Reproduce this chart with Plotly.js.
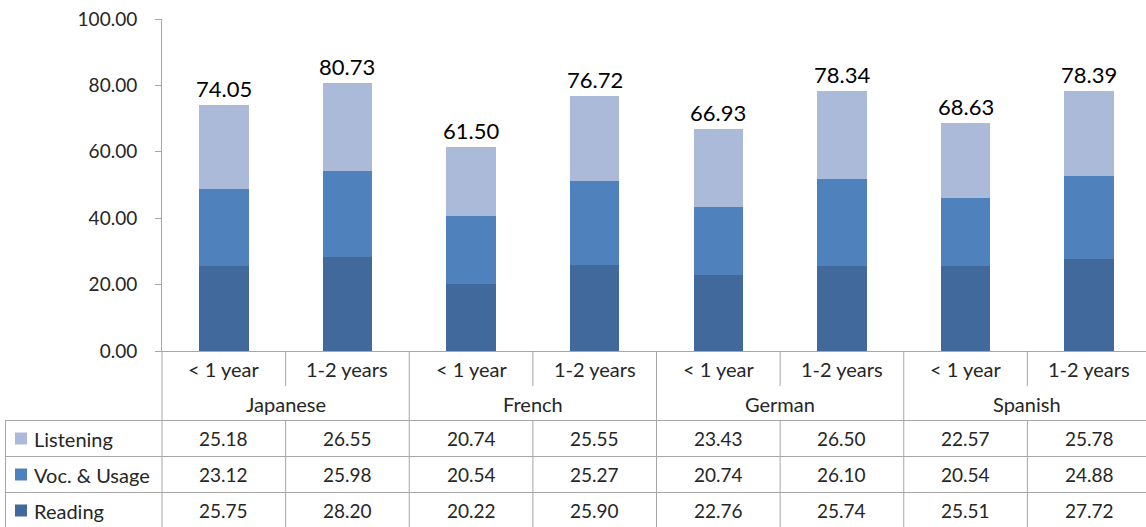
<!DOCTYPE html>
<html>
<head>
<meta charset="utf-8">
<script src="https://cdn.plot.ly/plotly-3.0.1.min.js"></script>
<style>html,body{margin:0;padding:0;background:#fff;overflow:hidden;}#chart{width:1151px;height:527px;}</style>
</head>
<body>
<div id="chart"></div>
<script>
// ---- data ----
var groups = ["Japanese", "French", "German", "Spanish"];
var subcats = ["< 1 year", "1-2 years"];
var seriesNames = ["Listening", "Voc. & Usage", "Reading"];
var listening = [25.18, 26.55, 20.74, 25.55, 23.43, 26.50, 22.57, 25.78];
var vocUsage  = [23.12, 25.98, 20.54, 25.27, 20.74, 26.10, 20.54, 24.88];
var reading   = [25.75, 28.20, 20.22, 25.90, 22.76, 25.74, 25.51, 27.72];
var totals    = [74.05, 80.73, 61.50, 76.72, 66.93, 78.34, 68.63, 78.39];
var yTicks = [0, 20, 40, 60, 80, 100];

// ---- layout constants ----
var W = 1151, H = 527, ML = 162, MR = 0, MT = 19, MB = 176;
var PW = W - ML - MR, PH = H - MT - MB;
function pxX(x){ return (x - ML) / PW; }
function pxY(y){ return (H - MB - y) / PH; }

var colors = {"Listening": "#abbad8", "Voc. & Usage": "#4f81bd", "Reading": "#41699c"};
var lineCol = "#a6a6a6";
var textCol = "#262626";
var FONT = "Lato, 'Open Sans', sans-serif";
var TXT = 20, NUM = 19;

// categories
var cats = [];
groups.forEach(function(g){ subcats.forEach(function(s){ cats.push(g + " " + s); }); });
var nC = cats.length;

var valuesBySeries = {"Listening": listening, "Voc. & Usage": vocUsage, "Reading": reading};
var stackOrder = ["Reading", "Voc. & Usage", "Listening"];
var traces = stackOrder.map(function(name){
  return {
    type: "bar", name: name, x: cats, y: valuesBySeries[name],
    marker: {color: colors[name], line: {width: 0}},
    hoverinfo: "y+name"
  };
});

var annotations = [];
var shapes = [];

// totals above bars
cats.forEach(function(c, i){
  annotations.push({
    x: c, y: totals[i], xref: "x", yref: "y", text: totals[i].toFixed(2),
    showarrow: false, xanchor: "center", yanchor: "bottom", yshift: 1,
    font: {family: FONT, size: 22, color: "#000"}
  });
});

// header row: subcategory labels
cats.forEach(function(c, i){
  annotations.push({
    x: c, y: pxY(369), xref: "x", yref: "paper", text: subcats[i % subcats.length],
    showarrow: false, xanchor: "center", yanchor: "middle", font: {family: FONT, size: TXT, color: textCol}
  });
});
// group labels
groups.forEach(function(g, gi){
  annotations.push({
    x: (gi + 0.5) / groups.length, y: pxY(404), xref: "paper", yref: "paper", text: g,
    showarrow: false, xanchor: "center", yanchor: "middle", font: {family: FONT, size: TXT, color: textCol}
  });
});

// data rows
var rowTops = [420.5, 456.5, 492.5];
var rowH = 36;
seriesNames.forEach(function(name, r){
  var yc = rowTops[r] + rowH / 2;
  var vals = valuesBySeries[name];
  cats.forEach(function(c, i){
    annotations.push({
      x: c, y: pxY(yc), xref: "x", yref: "paper", text: vals[i].toFixed(2),
      showarrow: false, xanchor: "center", yanchor: "middle", font: {family: FONT, size: NUM, color: textCol}
    });
  });
  // legend key
  shapes.push({type: "rect", xref: "paper", yref: "paper",
    x0: pxX(15), x1: pxX(27), y0: pxY(yc - 6), y1: pxY(yc + 6),
    fillcolor: colors[name], line: {width: 0}});
  annotations.push({
    x: pxX(32), y: pxY(yc), xref: "paper", yref: "paper", text: name,
    showarrow: false, xanchor: "left", yanchor: "middle",
    font: {family: FONT, size: TXT, color: textCol}
  });
});

// table grid lines
function hline(x0, x1, y){
  shapes.push({type: "line", xref: "paper", yref: "paper", x0: pxX(x0), x1: pxX(x1), y0: pxY(y), y1: pxY(y),
    line: {color: lineCol, width: 1}});
}
function vline(xp, y0, y1){
  shapes.push({type: "line", xref: "paper", yref: "paper", x0: xp, x1: xp, y0: pxY(y0), y1: pxY(y1),
    line: {color: lineCol, width: 1}});
}
rowTops.forEach(function(y){ hline(5, W, y); });
vline(pxX(5.5), 420.5, 530);
for (var k = 0; k < nC; k++){
  var xp = k / nC;
  if (k % subcats.length === 0) {
    vline(xp, 351, 530);
  } else {
    vline(xp, 351, 386);
    vline(xp, 420.5, 530);
  }
}

var layout = {
  width: W, height: H,
  margin: {l: ML, r: MR, t: MT, b: MB, pad: 0},
  paper_bgcolor: "#fff", plot_bgcolor: "#fff",
  barmode: "stack", bargap: 0.6,
  showlegend: false,
  font: {family: FONT, size: 18, color: textCol},
  xaxis: {
    type: "category", range: [-0.5, nC - 0.5], showticklabels: false, ticks: "",
    showline: true, linecolor: lineCol, linewidth: 1, showgrid: false, zeroline: false, fixedrange: true
  },
  yaxis: {
    range: [0, 100], tickvals: yTicks, tickformat: ".2f", ticks: "outside", ticklen: 6,
    tickcolor: lineCol, showline: true, linecolor: lineCol, linewidth: 1,
    showgrid: false, zeroline: false, ticklabelstandoff: 14,
    tickfont: {family: FONT, size: 19, color: textCol}, fixedrange: true
  },
  annotations: annotations,
  shapes: shapes
};

Plotly.newPlot("chart", traces, layout, {displayModeBar: false, staticPlot: true});
</script>
</body>
</html>
